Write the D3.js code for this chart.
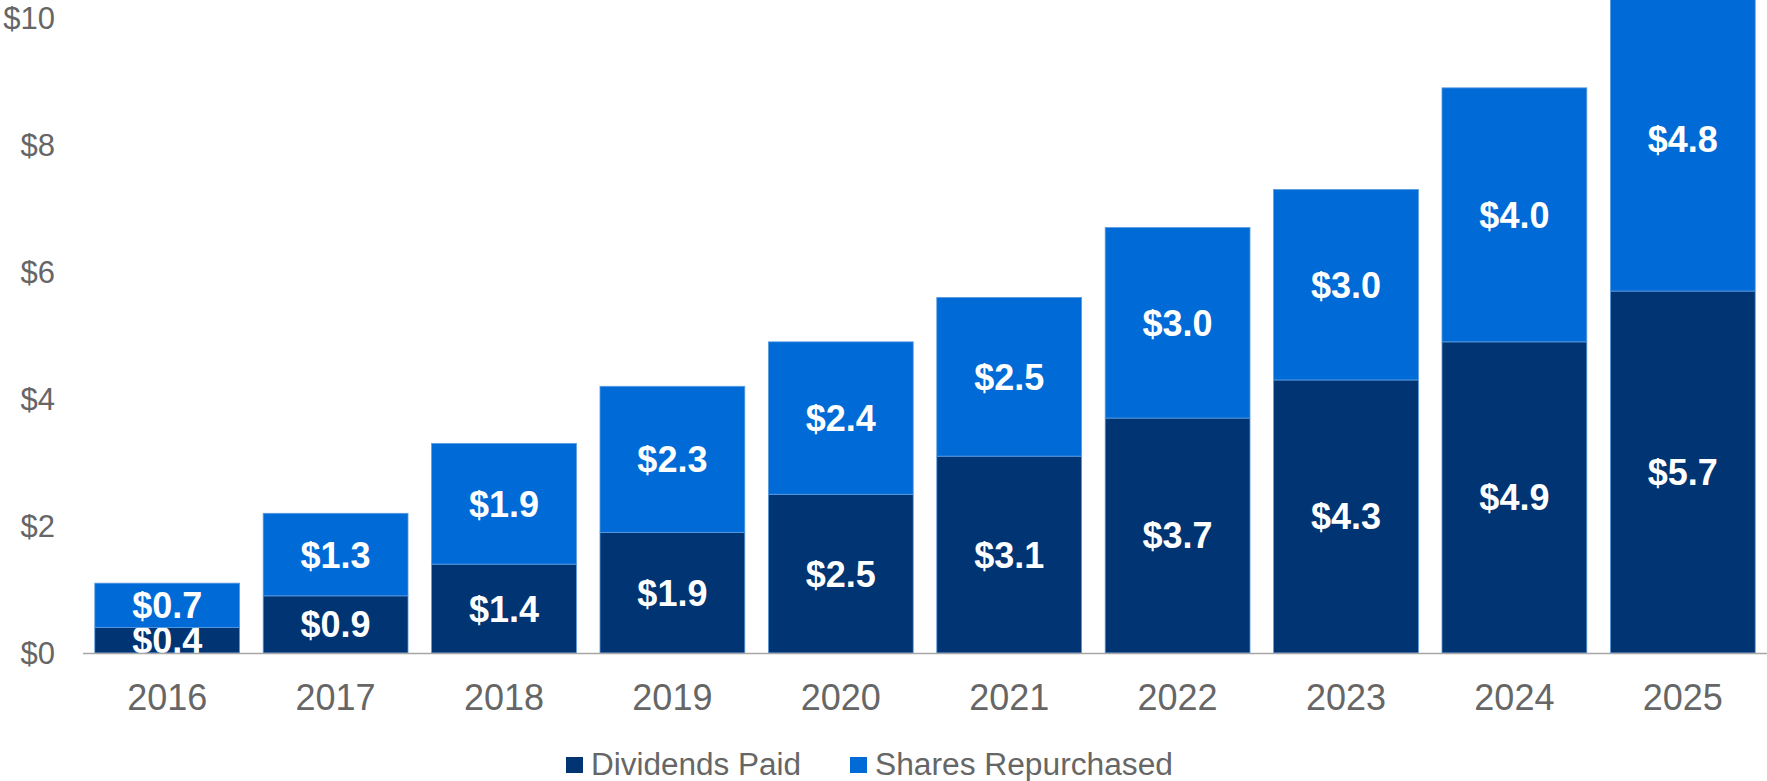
<!DOCTYPE html>
<html>
<head>
<meta charset="utf-8">
<script src="https://cdn.jsdelivr.net/npm/d3@7"></script>
<style>
  body { margin: 0; background: #fff; }
  svg { display: block; font-family: "Liberation Sans", Arial, sans-serif; }
</style>
</head>
<body>
<script>
// data ($ billions)
var jaren = ["2016", "2017", "2018", "2019", "2020", "2021", "2022", "2023", "2024", "2025"];
var dividenden = [0.4, 0.9, 1.4, 1.9, 2.5, 3.1, 3.7, 4.3, 4.9, 5.7];
var inkoop = [0.7, 1.3, 1.9, 2.3, 2.4, 2.5, 3.0, 3.0, 4.0, 4.8];
var yTicks = [0, 2, 4, 6, 8, 10];
var reeksen = ["Dividends Paid", "Shares Repurchased"];
var kleuren = ["#003473", "#006bd6"];

var breedte = 1767, hoogte = 781;
var marge = {links: 83, rechts: 0, boven: 18, beneden: 128};

var svg = d3.select("body").append("svg")
    .attr("width", breedte)
    .attr("height", hoogte);

// schalen
var x = d3.scaleBand()
    .domain(jaren)
    .range([marge.links, breedte - marge.rechts])
    .paddingInner(0.14)
    .paddingOuter(0.07);

var y = d3.scaleLinear()
    .domain([0, 10])
    .range([hoogte - marge.beneden, marge.boven]);

// gestapelde data
var tabel = jaren.map(function(j, i) {
  return {jaar: j, d: dividenden[i], s: inkoop[i]};
});
var stapel = d3.stack().keys(["d", "s"])(tabel);

var lagen = svg.append("g").selectAll("g")
    .data(stapel)
    .enter().append("g")
    .attr("fill", function(d, i) { return kleuren[i]; });

lagen.selectAll("rect")
    .data(function(d) { return d; })
    .enter().append("rect")
    .attr("x", function(d) { return x(d.data.jaar); })
    .attr("y", function(d) { return y(d[1]); })
    .attr("width", x.bandwidth())
    .attr("height", function(d) { return y(d[0]) - y(d[1]); })
    .attr("stroke", "#5a9be0")
    .attr("stroke-width", 0.8);

// waardelabels
lagen.selectAll("text")
    .data(function(d) { return d; })
    .enter().append("text")
    .attr("x", function(d) { return x(d.data.jaar) + x.bandwidth() / 2; })
    .attr("y", function(d) { return (y(d[0]) + y(d[1])) / 2; })
    .attr("dy", "0.36em")
    .attr("text-anchor", "middle")
    .attr("fill", "#fff")
    .attr("font-weight", "bold")
    .attr("font-size", "36px")
    .text(function(d) { return "$" + (d[1] - d[0]).toFixed(1); });

// x-as lijn
svg.append("line")
    .attr("x1", marge.links)
    .attr("x2", breedte)
    .attr("y1", y(0) + 0.5)
    .attr("y2", y(0) + 0.5)
    .attr("stroke", "#a6a6a6")
    .attr("stroke-width", 1.5);

// jaartallen
svg.append("g").selectAll("text")
    .data(jaren)
    .enter().append("text")
    .attr("x", function(d) { return x(d) + x.bandwidth() / 2; })
    .attr("y", y(0) + 44)
    .attr("dy", "0.36em")
    .attr("text-anchor", "middle")
    .attr("fill", "#666")
    .attr("font-size", "36px")
    .text(function(d) { return d; });

// y-as labels
svg.append("g").selectAll("text")
    .data(yTicks)
    .enter().append("text")
    .attr("x", 55)
    .attr("y", function(d) { return y(d); })
    .attr("dy", "0.36em")
    .attr("text-anchor", "end")
    .attr("fill", "#666")
    .attr("font-size", "31px")
    .text(function(d) { return "$" + d; });

// legenda
var legX = [566, 850];
var legBreedte = [210, 298];
var legenda = svg.append("g").selectAll("g")
    .data(reeksen)
    .enter().append("g");

legenda.append("rect")
    .attr("x", function(d, i) { return legX[i]; })
    .attr("y", 757)
    .attr("width", 17)
    .attr("height", 16)
    .attr("fill", function(d, i) { return kleuren[i]; });

legenda.append("text")
    .attr("x", function(d, i) { return legX[i] + 25; })
    .attr("y", 775)
    .attr("fill", "#666")
    .attr("font-size", "31px")
    .attr("textLength", function(d, i) { return legBreedte[i]; })
    .attr("lengthAdjust", "spacingAndGlyphs")
    .text(function(d) { return d; });
</script>
</body>
</html>
